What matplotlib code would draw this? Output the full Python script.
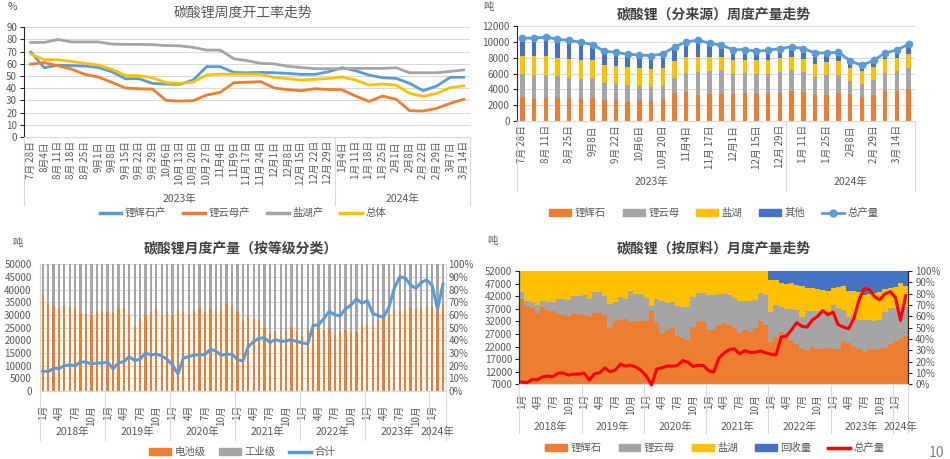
import matplotlib
matplotlib.use('Agg')
import matplotlib.pyplot as plt
from matplotlib.patches import Patch
from matplotlib.lines import Line2D
import numpy as np

plt.rcParams['font.family'] = ['Noto Sans CJK SC', 'DejaVu Sans']

# ---------------------------------------------------------------------------
# Colours (Office palette)
# ---------------------------------------------------------------------------
BLUE = '#5B9BD5'
ORANGE = '#ED7D31'
GRAY = '#A5A5A5'
YELLOW = '#FFC000'
DBLUE = '#4472C4'
RED = '#FF0000'
TXT = '#595959'
TITLE = '#404040'
GRID = '#D9D9D9'
AXIS = '#262626'

# ---------------------------------------------------------------------------
# Chart 1 - weekly operating rate (%)
# ---------------------------------------------------------------------------
op_weeks = ['7月 28日', '8月4日', '8月 11日', '8月 18日', '8月 25日', '9月1日', '9月8日',
            '9月 15日', '9月 22日', '9月 29日', '10月6日', '10月 13日', '10月 20日',
            '10月 27日', '11月4日', '11月9日', '11月 17日', '11月 24日', '12月1日', '12月8日',
            '12月 15日', '12月 22日', '12月 29日',
            '1月4日', '1月 11日', '1月 18日', '1月 25日', '2月1日', '2月8日', '2月 22日',
            '2月 29日', '3月7日', '3月 14日']
op_years = ['2023年', '2024年']
op_year_len = [23, 10]

rate_spodumene = [69.7, 56.8, 59, 58.5, 58.2, 57, 53.5, 47.8, 47.8, 44, 43.4, 43.2, 46.7,
                  57.7, 57.7, 53, 52.7, 53, 52.7, 52.2, 51.4, 51.4, 53.5, 56.8, 54.4, 50.8,
                  48.6, 48.1, 44, 38, 41.8, 49, 49]
rate_lepidolite = [59.8, 61, 58.5, 55.7, 51.4, 49.2, 44.8, 40.2, 39.6, 39.3, 30, 29.5, 29.8,
                   34.4, 36.6, 44.5, 45, 45.4, 40.2, 38.8, 38, 39.6, 39, 38.8, 33.6, 29.2,
                   33.6, 31, 21.6, 21.3, 23.5, 27.6, 30.9]
rate_brine = [77.6, 77.6, 80, 78, 78, 78, 76.2, 76, 76, 75.8, 75, 74.8, 73.5, 71.3, 71.3,
              64.2, 62.6, 60.4, 60, 58, 57, 56, 56, 56, 56.3, 56.3, 56.3, 56.8, 52.7, 52.7,
              52.7, 53.8, 55]
rate_total = [68, 63.4, 63.4, 62, 60.4, 59, 55.5, 50.5, 50.3, 48.6, 44.5, 44, 45, 51, 51.6,
              51.6, 51.6, 51.4, 49, 47.8, 46.7, 47.3, 48, 49.2, 46.7, 42.6, 43.4, 42.6, 35.8,
              33.3, 35.8, 40.4, 42]

# ---------------------------------------------------------------------------
# Chart 2 - weekly output by source (t)
# ---------------------------------------------------------------------------
prod_weeks = op_weeks + ['3月 21日']
prod_year_len = [23, 11]

wk_spodumene = [2980, 2810, 2940, 2890, 2890, 2810, 2940, 2640, 2640, 2380, 2640, 2550, 2810,
                3490, 3660, 3320, 3360, 3360, 3360, 3530, 3450, 3450, 3570, 3830, 3700, 3450,
                3280, 3570, 3400, 2980, 3320, 3830, 3830, 4000]
wk_lepidolite = [2980, 3060, 2930, 2810, 2600, 2550, 2460, 2210, 2130, 2170, 1740, 1790, 1740,
                 2000, 2380, 2890, 2980, 3020, 2600, 2560, 2470, 2550, 2640, 2600, 2430, 2170,
                 2470, 2300, 1710, 1660, 1870, 2210, 2430, 2640]
wk_brine = [2300, 2300, 2340, 2300, 2300, 2300, 2260, 2170, 2210, 2220, 2260, 2170, 2170,
            2130, 2090, 1920, 1750, 1660, 1780, 1650, 1740, 1700, 1700, 1660, 1740, 1610,
            1700, 1660, 1610, 1660, 1660, 1750, 1740, 1830]
wk_other = [2210, 2300, 2390, 2340, 2380, 2300, 2000, 1790, 1700, 1660, 1700, 1750, 1750,
            1740, 1870, 2080, 1740, 1530, 1280, 1280, 1150, 1240, 1240, 1270, 1280, 1370,
            1150, 1150, 900, 720, 810, 810, 980, 1230]
wk_total = [10470, 10470, 10600, 10340, 10170, 9960, 9660, 8810, 8680, 8430, 8340, 8260, 8470,
            9360, 10000, 10210, 9830, 9570, 9020, 9020, 8810, 8940, 9150, 9360, 9150, 8600,
            8600, 8680, 7620, 7020, 7660, 8600, 8980, 9700]

# ---------------------------------------------------------------------------
# Charts 3 & 4 - monthly, Jan 2018 .. Mar 2024
# ---------------------------------------------------------------------------
mo_years = ['2018年', '2019年', '2020年', '2021年', '2022年', '2023年', '2024年']
mo_year_len = [12, 12, 12, 12, 12, 12, 3]
mo_tick_labels = ['1月', '4月', '7月', '10月'] * 6 + ['1月']

monthly_total = [7900, 7630, 8950, 8820, 10000, 10260, 10000, 11450, 11450, 10660, 11050, 11050,
                 11450, 8680, 11180, 11580, 13550, 11970, 12630, 15000, 14210, 14600, 13820, 12500,
                 10260, 6710, 13030, 13550, 14210, 14210, 14470, 16450, 15790, 14080, 14600, 14470,
                 12370, 11840, 17500, 19470, 20790, 21050, 19080, 20390, 19610, 19740, 20260, 19470,
                 18950, 18680, 25790, 26180, 28680, 31450, 30000, 29740, 32500, 33950, 36320, 34610,
                 35660, 30660, 29740, 29080, 33030, 40530, 45000, 44610, 41840, 40530, 42890, 43820,
                 41580, 32370, 42240]

# battery-grade share of monthly output (%)
battery_share = [75.7, 68.8, 66.9, 64.8, 67.7, 66.1, 65.6, 61.6, 60.8, 60.3, 63.0, 63.0,
                 62.4, 61.9, 64.8, 65.6, 60.3, 51.3, 57.4, 60.3, 62.4, 65.1, 59.5, 63.0,
                 59.5, 63.8, 62.4, 60.0, 63.0, 64.8, 62.4, 64.8, 62.4, 64.3, 68.8, 66.9,
                 62.4, 55.0, 60.3, 56.9, 55.8, 49.7, 46.0, 47.0, 43.0, 47.0, 50.5, 46.3,
                 43.4, 49.2, 52.9, 51.0, 48.4, 49.7, 43.9, 46.6, 47.9, 45.8, 46.6, 51.0,
                 52.4, 50.3, 55.8, 59.0, 60.8, 63.8, 62.4, 63.8, 65.6, 64.8, 64.8, 66.9,
                 66.9, 65.6, 67.7]

# share by raw material (%)
feed_spodumene = [75, 68.8, 67.5, 63.2, 68, 65.9, 65, 62, 61.5, 60.3, 63.2, 62.4,
                  61.5, 60.6, 63, 63, 61, 49.4, 55.6, 56.5, 57.6, 54.7, 55.6, 55.9,
                  56, 64.4, 53.8, 45.6, 47.6, 49.4, 42.6, 40.9, 39.4, 50.6, 55.9, 55,
                  47.6, 47.6, 52, 54, 52, 50, 45.3, 48.2, 46.2, 50, 55.9, 52,
                  37.4, 41.8, 46.2, 44.7, 38.2, 35.9, 31, 29.1, 33, 31, 31, 32,
                  31, 31, 38.2, 36.5, 33, 31, 28.5, 31, 30, 31, 32, 36,
                  38, 40, 42.6]
feed_lepidolite = [6.5, 4.7, 5.4, 6.5, 5.2, 6.5, 7.4, 13.3, 13.8, 14.4, 15, 15.8,
                   17, 15, 18.5, 18.5, 16.6, 21.2, 17, 20.5, 17.4, 27.9, 23.8, 24.1,
                   20.5, 4.4, 21.2, 27.6, 24.2, 23.2, 26.4, 27.3, 28.8, 26.8, 24.4, 25.3,
                   30.9, 30.9, 27.7, 25.4, 26.5, 26, 27.9, 25, 27, 24.5, 24.7, 26.5,
                   26.4, 28.5, 22, 22.1, 28.6, 29.4, 28.4, 35.3, 31.4, 33.4, 33.4, 31.8,
                   39.3, 36.6, 27.1, 22.9, 27.9, 25.5, 28, 26, 25.6, 25.5, 31.8, 31.4,
                   29.4, 28.2, 25.6]
feed_brine = [18.5, 26.5, 27.1, 30.3, 26.8, 27.6, 27.6, 24.7, 24.7, 25.3, 21.8, 21.8,
              21.5, 24.4, 18.5, 18.5, 22.4, 29.4, 27.4, 23, 25, 17.4, 20.6, 20,
              23.5, 31.2, 25, 26.8, 28.2, 27.4, 31, 31.8, 31.8, 22.6, 19.7, 19.7,
              21.5, 21.5, 20.3, 20.6, 21.5, 24, 26.8, 26.8, 26.8, 25.5, 19.4, 21.5,
              28.6, 21.7, 21.3, 22, 22.5, 22.7, 27.4, 20.9, 20.9, 20, 19.1, 18.2,
              14.7, 18, 21.5, 22.6, 21.1, 25, 22, 23, 24.9, 25, 20, 17.6,
              18.5, 21.5, 18.8]
feed_recycle = [0] * 48 + [7.6, 8, 10.5, 11.2, 10.7, 12, 13.2, 14.7, 14.7, 15.6, 16.5, 18,
                           15, 14.4, 13.2, 18, 18, 18.5, 21.5, 20, 19.5, 18.5, 16.2, 15,
                           14.1, 10.3, 13]

# ---------------------------------------------------------------------------
# Figure & helpers (boxes given in pixels: left, top, right, bottom)
# ---------------------------------------------------------------------------
W, H = 950, 459
fig = plt.figure(figsize=(W / 100, H / 100), dpi=100)
fig.patch.set_facecolor('white')


def fx(px):
    return px / W


def fy(py):
    return 1 - py / H


def add_ax(box):
    l, t, r, b = box
    return fig.add_axes([l / W, 1 - b / H, (r - l) / W, (b - t) / H])


def ay(box, py):
    return (box[3] - py) / (box[3] - box[1])


def year_row(ax, box, lengths, labels, label_py, line_py):
    tr = ax.get_xaxis_transform()
    edges = np.concatenate([[0], np.cumsum(lengths)]) - 0.5
    for x in edges:
        ax.plot([x, x], [0, ay(box, line_py)], transform=tr, color=GRID, lw=0.8,
                clip_on=False)
    for x0, x1, lab in zip(edges[:-1], edges[1:], labels):
        ax.text((x0 + x1) / 2, ay(box, label_py), lab, transform=tr, ha='center',
                va='center', fontsize=7.5, color=TXT)


def title(px, py, s, bold=True):
    fig.text(fx(px), fy(py), s, ha='center', va='center', fontsize=10,
             fontweight='bold' if bold else 'normal', color=TITLE if bold else TXT)


def unit(px, py, s):
    fig.text(fx(px), fy(py), s, ha='center', va='center', fontsize=7.5, color=TXT)


def legend(handles, labels, px, py, spacing=1.4):
    fig.legend(handles, labels, loc='center', bbox_to_anchor=(fx(px), fy(py)),
               ncol=len(handles), frameon=False, fontsize=7.5, labelcolor=TXT,
               handlelength=2.1, handleheight=0.6, columnspacing=spacing,
               handletextpad=0.35, borderpad=0, borderaxespad=0)


# ---------------------------------------------------------------------------
# Chart 1
# ---------------------------------------------------------------------------
box1 = (24, 27.3, 470.5, 137)
ax1 = add_ax(box1)
x1 = np.arange(len(op_weeks))
ax1.plot(x1, rate_spodumene, color=BLUE, lw=2)
ax1.plot(x1, rate_lepidolite, color=ORANGE, lw=2)
ax1.plot(x1, rate_brine, color=GRAY, lw=2)
ax1.plot(x1, rate_total, color=YELLOW, lw=2)
ax1.set_xlim(-0.5, len(op_weeks) - 0.5)
ax1.set_ylim(0, 90)
ax1.set_yticks(range(0, 91, 10))
ax1.yaxis.grid(True, color=GRID, lw=0.75)
ax1.set_axisbelow(True)
ax1.set_xticks(x1)
ax1.set_xticklabels(op_weeks, rotation=90)
for s in ['top', 'right']:
    ax1.spines[s].set_visible(False)
ax1.spines['bottom'].set_color(GRID)
ax1.spines['left'].set_color(AXIS)
ax1.spines['left'].set_linewidth(0.8)
ax1.tick_params(axis='x', length=0, pad=3, labelsize=7, labelcolor=TXT)
ax1.tick_params(axis='y', length=3, width=0.8, color=AXIS, pad=2, labelsize=7, labelcolor=TXT)
year_row(ax1, box1, op_year_len, op_years, 199, 205)
title(243, 13, '碳酸锂周度开工率走势', bold=False)
unit(12, 7, '%')
legend([Line2D([], [], color=c, lw=2.5) for c in (BLUE, ORANGE, GRAY, YELLOW)],
       ['锂辉石产', '锂云母产', '盐湖产', '总体'], 243, 213, spacing=1.6)

# ---------------------------------------------------------------------------
# Chart 2
# ---------------------------------------------------------------------------
box2 = (516.5, 26, 914.5, 121)
ax2 = add_ax(box2)
x2 = np.arange(len(prod_weeks))
bw = 0.38
bottom = np.zeros(len(x2))
for vals, c in [(wk_spodumene, ORANGE), (wk_lepidolite, GRAY), (wk_brine, YELLOW),
                (wk_other, DBLUE)]:
    ax2.bar(x2, vals, bw, bottom=bottom, color=c, zorder=2)
    bottom += np.array(vals)
ax2.plot(x2, wk_total, color=BLUE, lw=2, marker='o', ms=4.5, zorder=4)
ax2.set_xlim(-0.5, len(prod_weeks) - 0.5)
ax2.set_ylim(0, 12000)
ax2.set_yticks(range(0, 12001, 2000))
ax2.yaxis.grid(True, color=GRID, lw=0.75)
ax2.set_axisbelow(True)
ax2.set_xticks(x2[::2])
ax2.set_xticklabels(prod_weeks[::2], rotation=90)
for s in ['top', 'right']:
    ax2.spines[s].set_visible(False)
ax2.spines['bottom'].set_color(GRID)
ax2.spines['left'].set_color(AXIS)
ax2.spines['left'].set_linewidth(0.8)
ax2.tick_params(axis='x', length=0, pad=3, labelsize=7, labelcolor=TXT)
ax2.tick_params(axis='y', length=3, width=0.8, color=AXIS, pad=2, labelsize=7, labelcolor=TXT)
year_row(ax2, box2, prod_year_len, op_years, 182, 191)
title(714, 14, '碳酸锂（分来源）周度产量走势')
unit(488, 7, '吨')
legend([Patch(color=c) for c in (ORANGE, GRAY, YELLOW, DBLUE)]
       + [Line2D([], [], color=BLUE, lw=2, marker='o', ms=5)],
       ['锂辉石', '锂云母', '盐湖', '其他', '总产量'], 714, 213, spacing=1.6)

# ---------------------------------------------------------------------------
# Chart 3
# ---------------------------------------------------------------------------
box3 = (40, 264.3, 445.7, 391)
ax3 = add_ax(box3)
ax3b = ax3.twinx()
xm = np.arange(len(monthly_total))
batt = np.array(battery_share) / 100
ax3b.bar(xm, batt, 0.42, color=ORANGE, zorder=2)
ax3b.bar(xm, 1 - batt, 0.42, bottom=batt, color=GRAY, zorder=2)
ax3b.set_ylim(0, 1)
ax3b.set_yticks(np.linspace(0, 1, 11))
ax3b.set_yticklabels([f'{v}%' for v in range(0, 101, 10)])
ax3b.yaxis.grid(True, color=GRID, lw=0.75)
ax3b.set_axisbelow(True)
ax3.plot(xm, monthly_total, color=BLUE, lw=2.2, zorder=4)
ax3.set_zorder(ax3b.get_zorder() + 1)
ax3.patch.set_visible(False)
ax3.set_ylim(0, 50000)
ax3.set_yticks(range(0, 50001, 5000))
ax3.set_xlim(-0.5, len(xm) - 0.5)
ax3.set_xticks(xm[::3])
ax3.set_xticklabels(mo_tick_labels, rotation=90)
for a in (ax3, ax3b):
    a.spines['top'].set_visible(False)
    for s in ['left', 'right', 'bottom']:
        a.spines[s].set_color(GRID)
ax3.tick_params(axis='x', length=0, pad=10, labelsize=7, labelcolor=TXT)
ax3.tick_params(axis='y', length=0, pad=6, labelsize=7, labelcolor=TXT)
ax3b.tick_params(axis='y', length=0, pad=2, labelsize=7, labelcolor=TXT)
year_row(ax3, box3, mo_year_len, mo_years, 432, 440)
title(241, 248, '碳酸锂月度产量（按等级分类）')
unit(17, 243, '吨')
legend([Patch(color=ORANGE), Patch(color=GRAY), Line2D([], [], color=BLUE, lw=2.5)],
       ['电池级', '工业级', '合计'], 242, 452, spacing=1.3)

# ---------------------------------------------------------------------------
# Chart 4
# ---------------------------------------------------------------------------
box4 = (519.3, 271, 908.3, 384.3)
ax4 = add_ax(box4)
ax4b = ax4.twinx()
bottom = np.zeros(len(xm))
for vals, c in [(feed_spodumene, ORANGE), (feed_lepidolite, GRAY), (feed_brine, YELLOW),
                (feed_recycle, DBLUE)]:
    v = np.array(vals) / 100
    ax4b.bar(xm, v, 1.0, bottom=bottom, color=c, linewidth=0, zorder=2)
    bottom += v
ax4b.set_ylim(0, 1)
ax4b.set_yticks(np.linspace(0, 1, 11))
ax4b.set_yticklabels([f'{v}%' for v in range(0, 101, 10)])
ax4.plot(xm, monthly_total, color=RED, lw=2.2, zorder=4, clip_on=False)
ax4.set_zorder(ax4b.get_zorder() + 1)
ax4.patch.set_visible(False)
ax4.set_ylim(7000, 52000)
ax4.set_yticks(range(7000, 52001, 5000))
ax4.set_xlim(-0.5, len(xm) - 0.5)
ax4.set_xticks(xm[::3])
ax4.set_xticklabels(mo_tick_labels, rotation=90)
for a in (ax4, ax4b):
    a.spines['top'].set_visible(False)
    a.spines['bottom'].set_color(GRID)
    a.spines['left'].set_color(AXIS)
    a.spines['right'].set_color(AXIS)
    a.spines['left'].set_linewidth(0.8)
    a.spines['right'].set_linewidth(0.8)
ax4.tick_params(axis='x', length=0, pad=7, labelsize=7, labelcolor=TXT)
ax4.tick_params(axis='y', length=3, width=0.8, color=AXIS, pad=2, labelsize=7, labelcolor=TXT)
ax4b.tick_params(axis='y', length=3, width=0.8, color=AXIS, pad=2, labelsize=7, labelcolor=TXT)
year_row(ax4, box4, mo_year_len, mo_years, 427, 433)
title(714, 248, '碳酸锂（按原料）月度产量走势')
unit(492, 241, '吨')
legend([Patch(color=c) for c in (ORANGE, GRAY, YELLOW, DBLUE)]
       + [Line2D([], [], color=RED, lw=2.5)],
       ['锂辉石', '锂云母', '盐湖', '回收量', '总产量'], 715, 448, spacing=1.6)

fig.text(fx(936), fy(453), '10', ha='center', va='center', fontsize=10, color='#7F7F7F')

fig.savefig('out.png', dpi=100, facecolor='white')
